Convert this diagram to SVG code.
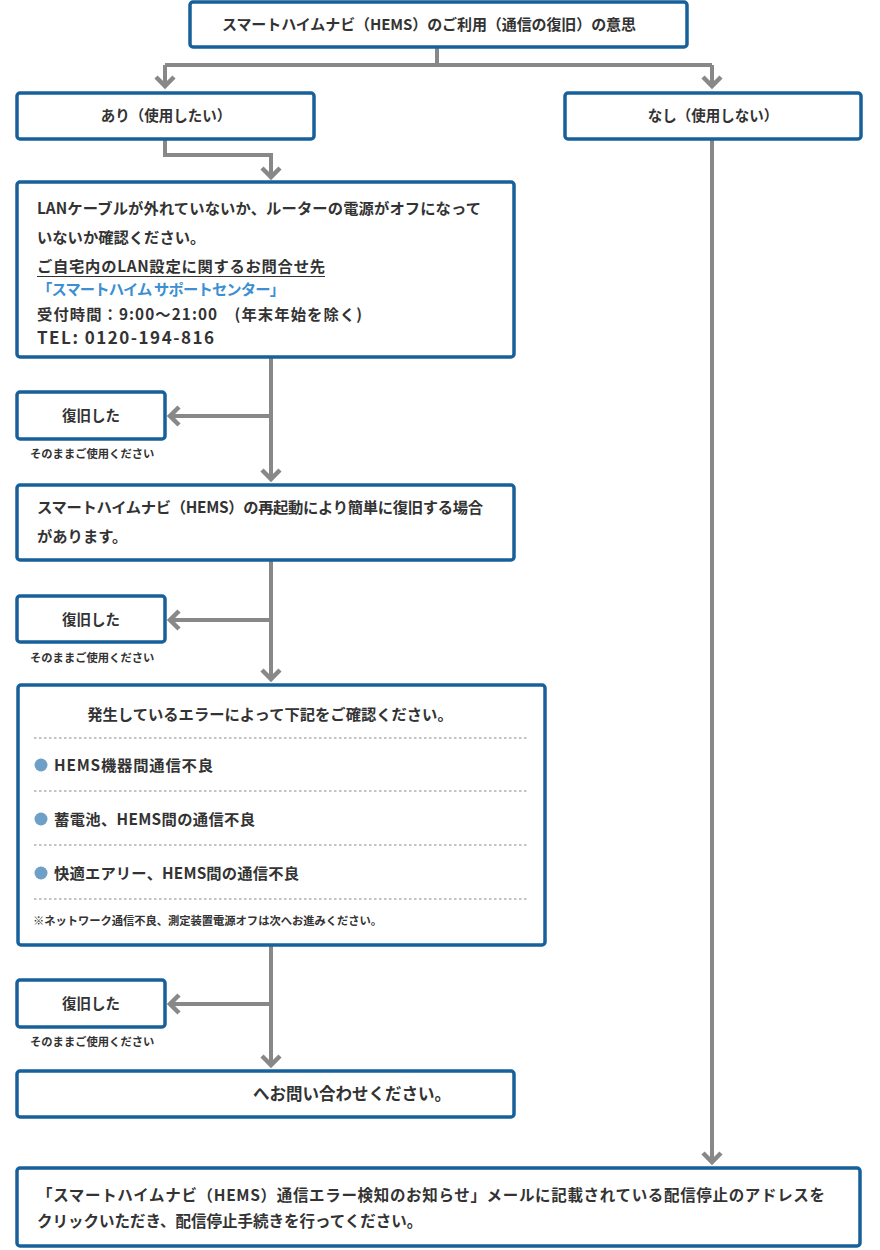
<svg xmlns="http://www.w3.org/2000/svg" width="880" height="1250" viewBox="0 0 880 1250">
<style>
.box{fill:#fff;stroke:#17609a;stroke-width:3.5}
.t{font-family:"Noto Sans CJK JP","Noto Sans",sans-serif;font-weight:bold;fill:#333;font-size:14.5px}
.m{font-size:15.3px}
.s{font-size:11.3px}
.c{text-anchor:middle}
.con{fill:none;stroke:#888;stroke-width:4}
.dot{stroke:#888;stroke-width:1;stroke-dasharray:2.5 2.5}
.bul{fill:#6e9fc7}
</style>
<defs>
<marker id="ah" markerUnits="userSpaceOnUse" viewBox="-14 -12 18 24" markerWidth="18" markerHeight="24" refX="0" refY="0" orient="auto">
<path d="M-10,-9 L-1,0 L-10,9" fill="none" stroke="#888" stroke-width="4.5"/>
</marker>
</defs>
<g id="connectors">
<path class="con" d="M437,47 V65 M165,65 H712"/>
<path class="con" d="M165,65 V87" marker-end="url(#ah)"/>
<path class="con" d="M712,65 V87" marker-end="url(#ah)"/>
<path class="con" d="M165,140 V155 H271 V178" marker-end="url(#ah)"/>
<path class="con" d="M271,358 V480" marker-end="url(#ah)"/>
<path class="con" d="M271,416 H169" marker-end="url(#ah)"/>
<path class="con" d="M271,561 V680" marker-end="url(#ah)"/>
<path class="con" d="M271,620 H169" marker-end="url(#ah)"/>
<path class="con" d="M271,946 V1066" marker-end="url(#ah)"/>
<path class="con" d="M271,1004 H169" marker-end="url(#ah)"/>
<path class="con" d="M712,140 V1163" marker-end="url(#ah)"/>
</g>
<g id="n-top"><rect class="box" x="190" y="2" width="497" height="45" rx="3"/>
<text class="t" x="222" y="30" style="font-size:15px" textLength="414" lengthAdjust="spacing">スマートハイムナビ（HEMS）のご利用（通信の復旧）の意思</text></g>
<g id="n-yes"><rect class="box" x="17" y="93" width="297" height="46" rx="3"/>
<text class="t c" x="166" y="121">あり（使用したい）</text></g>
<g id="n-no"><rect class="box" x="565" y="93" width="296" height="46" rx="3"/>
<text class="t c" x="713" y="121">なし（使用しない）</text></g>
<g id="n-lan"><rect class="box" x="17" y="182" width="497" height="175" rx="3"/>
<text class="t m" x="37" y="214" textLength="444" lengthAdjust="spacing">LANケーブルが外れていないか、ルーターの電源がオフになって</text>
<text class="t m" x="37" y="243">いないか確認ください。</text>
<text class="t m" x="37" y="272" textLength="288" lengthAdjust="spacing">ご自宅内のLAN設定に関するお問合せ先</text>
<line x1="37" y1="276.5" x2="325" y2="276.5" stroke="#333" stroke-width="1"/>
<text class="t m" x="37" y="295" style="fill:#3b8fd2" textLength="248" lengthAdjust="spacing">「スマートハイム サポートセンター」</text>
<text class="t m" x="37" y="320" textLength="325" lengthAdjust="spacing">受付時間：9:00～21:00　(年末年始を除く)</text>
<text class="t" x="37" y="344" style="font-size:17px" textLength="177" lengthAdjust="spacing">TEL: 0120-194-816</text></g>
<g id="n-ok1"><rect class="box" x="17" y="392" width="148" height="47" rx="3"/>
<text class="t c" x="91" y="421">復旧した</text>
<text class="t s" x="30" y="458">そのままご使用ください</text></g>
<g id="n-restart"><rect class="box" x="17" y="485" width="497" height="75" rx="3"/>
<text class="t m" x="37" y="513" textLength="446" lengthAdjust="spacing">スマートハイムナビ（HEMS）の再起動により簡単に復旧する場合</text>
<text class="t m" x="37" y="542">があります。</text></g>
<g id="n-ok2"><rect class="box" x="17" y="596" width="148" height="46" rx="3"/>
<text class="t c" x="91" y="625">復旧した</text>
<text class="t s" x="30" y="662">そのままご使用ください</text></g>
<g id="n-err"><rect class="box" x="18" y="685" width="527" height="260" rx="3"/>
<text class="t c m" x="270" y="720">発生しているエラーによって下記をご確認ください。</text>
<line class="dot" x1="34" y1="738" x2="528" y2="738"/>
<circle class="bul" cx="41" cy="765" r="6.5"/>
<text class="t m" x="54" y="771" textLength="159" lengthAdjust="spacing">HEMS機器間通信不良</text>
<line class="dot" x1="34" y1="791" x2="528" y2="791"/>
<circle class="bul" cx="41" cy="819" r="6.5"/>
<text class="t m" x="54" y="825" textLength="201" lengthAdjust="spacing">蓄電池、HEMS間の通信不良</text>
<line class="dot" x1="34" y1="845" x2="528" y2="845"/>
<circle class="bul" cx="41" cy="873" r="6.5"/>
<text class="t m" x="54" y="879" textLength="245" lengthAdjust="spacing">快適エアリー、HEMS間の通信不良</text>
<line class="dot" x1="34" y1="899" x2="528" y2="899"/>
<text class="t s" x="33" y="925" textLength="349" lengthAdjust="spacing">※ネットワーク通信不良、測定装置電源オフは次へお進みください。</text></g>
<g id="n-ok3"><rect class="box" x="17" y="980" width="148" height="47" rx="3"/>
<text class="t c" x="91" y="1009">復旧した</text>
<text class="t s" x="30" y="1046">そのままご使用ください</text></g>
<g id="n-contact"><rect class="box" x="17" y="1071" width="497" height="46" rx="3"/>
<text class="t" x="253" y="1100" style="font-size:16.5px">へお問い合わせください。</text></g>
<g id="n-stop"><rect class="box" x="17" y="1168" width="843" height="78" rx="3"/>
<text class="t" x="37" y="1201" style="font-size:15.5px" textLength="788" lengthAdjust="spacing">「スマートハイムナビ（HEMS）通信エラー検知のお知らせ」メールに記載されている配信停止のアドレスを</text>
<text class="t" x="37" y="1227" style="font-size:15.5px">クリックいただき、配信停止手続きを行ってください。</text></g>
</svg>
